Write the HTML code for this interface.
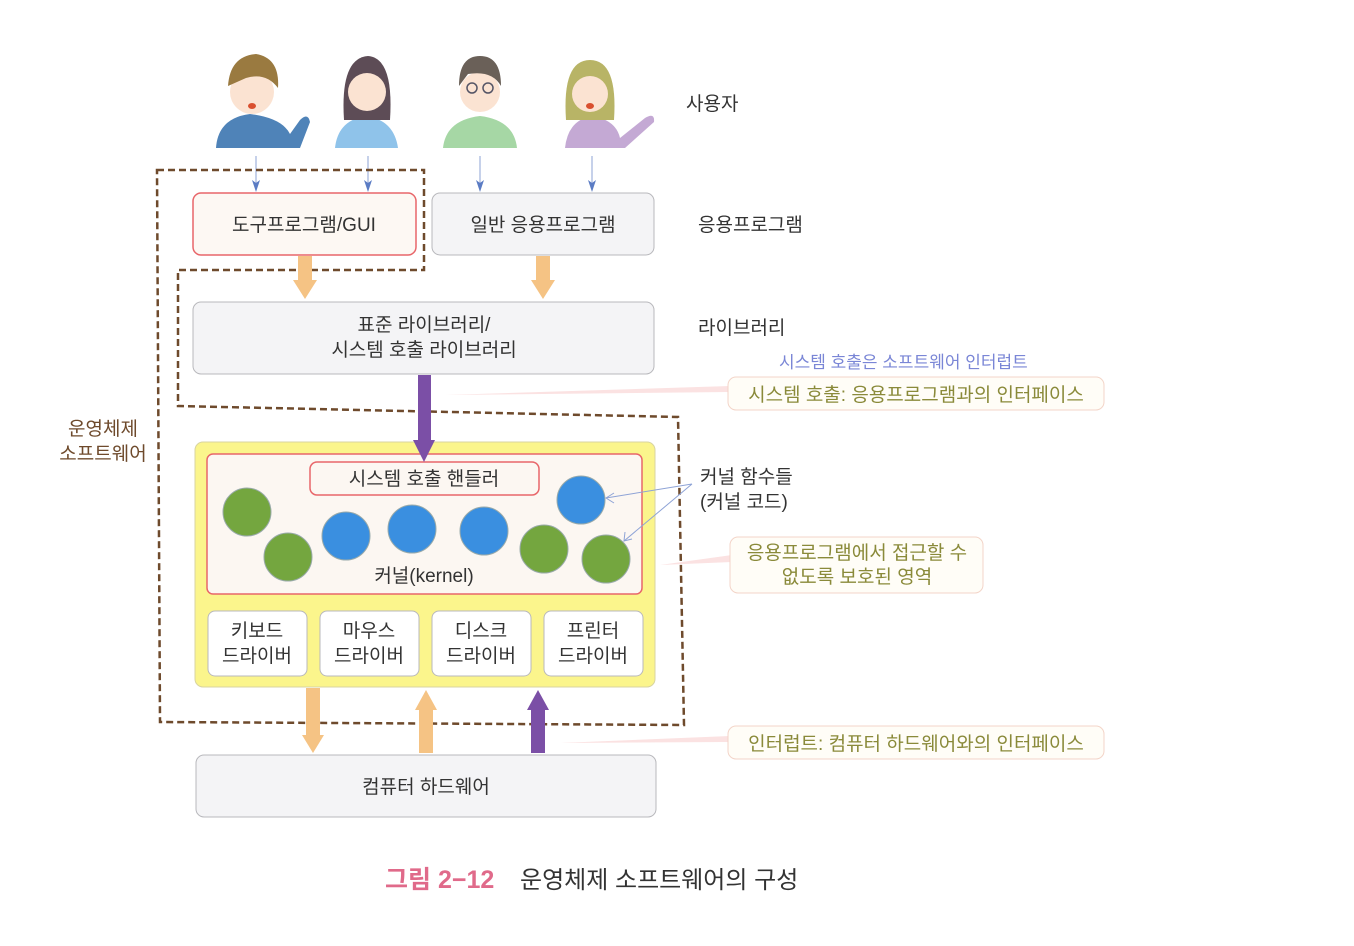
<!DOCTYPE html>
<html><head><meta charset="utf-8"><style>
html,body{margin:0;padding:0;background:#fff;}
svg{display:block;}
text{font-family:"Liberation Sans","Noto Sans CJK KR",sans-serif;}
</style></head><body>
<svg width="1354" height="946" viewBox="0 0 1354 946" xmlns="http://www.w3.org/2000/svg">

<!-- people -->
<g>
 <path d="M216,148 Q218,118 250,114 Q282,118 290,134 L300,120 Q308,112 310,122 L300,148 Z" fill="#4f83b8"/>
 <circle cx="252" cy="92" r="22" fill="#fbe3d2"/>
 <path d="M228,86 Q230,56 256,54 Q280,58 278,88 Q266,72 246,78 Z" fill="#9a7a40"/>
 <ellipse cx="252" cy="106" rx="4" ry="3" fill="#d9502f"/>
 <path d="M335,148 Q338,120 366,116 Q394,120 398,148 Z" fill="#8fc3ea"/>
 <path d="M344,120 Q340,58 368,56 Q394,58 390,120 Z" fill="#5d4c56"/>
 <circle cx="367" cy="92" r="19" fill="#fbe3d2"/>
 <path d="M443,148 Q446,120 480,116 Q514,120 517,148 Z" fill="#a6d7a5"/>
 <circle cx="480" cy="92" r="20" fill="#fbe3d2"/>
 <path d="M459,86 Q459,56 480,56 Q501,56 501,86 Q492,70 468,74 Z" fill="#6a6058"/>
 <circle cx="472" cy="88" r="5" fill="none" stroke="#556" stroke-width="1.5"/>
 <circle cx="488" cy="88" r="5" fill="none" stroke="#556" stroke-width="1.5"/>
 <path d="M565,148 Q568,120 592,116 Q616,120 620,138 L645,118 Q655,112 654,122 L625,148 Z" fill="#c4a9d4"/>
 <path d="M566,120 Q562,60 590,60 Q618,60 614,120 Z" fill="#b8b466"/>
 <circle cx="590" cy="94" r="18" fill="#fbe3d2"/>
 <ellipse cx="590" cy="106" rx="4" ry="3" fill="#d9502f"/>
</g>
<text x="686" y="110" font-size="19" fill="#333">사용자</text>

<!-- thin blue arrows -->
<g stroke="#8ea3d6" stroke-width="1">
<line x1="256" y1="156" x2="256" y2="188"/>
<line x1="368" y1="156" x2="368" y2="188"/>
<line x1="480" y1="156" x2="480" y2="188"/>
<line x1="592" y1="156" x2="592" y2="188"/>
</g>
<g fill="#5b7cc4">
<path d="M252,180 L256,192 L260,180 L256,183 Z"/>
<path d="M364,180 L368,192 L372,180 L368,183 Z"/>
<path d="M476,180 L480,192 L484,180 L480,183 Z"/>
<path d="M588,180 L592,192 L596,180 L592,183 Z"/>
</g>

<!-- dashed OS boundary -->
<path d="M157,170 L424,170 L424,270 L178,270 L178,406 L678,417 L684,725 L160,722 Z" fill="none" stroke="#6e4a2c" stroke-width="2.5" stroke-dasharray="7,4"/>

<!-- app boxes -->
<rect x="193" y="193" width="223" height="62" rx="8" fill="#fdf8f3" stroke="#e8666a" stroke-width="1.5"/>
<text x="304" y="231" font-size="19" fill="#333" text-anchor="middle">도구프로그램/GUI</text>
<rect x="432" y="193" width="222" height="62" rx="8" fill="#f4f4f6" stroke="#b8b8bc" stroke-width="1"/>
<text x="543" y="231" font-size="19" fill="#333" text-anchor="middle">일반 응용프로그램</text>
<text x="698" y="231" font-size="19" fill="#333">응용프로그램</text>

<!-- orange arrows -->
<g fill="#f5c384">
<path d="M298,256 L312,256 L312,280 L317,280 L305,299 L293,280 L298,280 Z"/>
<path d="M536,256 L550,256 L550,280 L555,280 L543,299 L531,280 L536,280 Z"/>
</g>

<!-- library -->
<rect x="193" y="302" width="461" height="72" rx="8" fill="#f4f4f6" stroke="#b8b8bc" stroke-width="1"/>
<text x="424" y="331" font-size="19" fill="#333" text-anchor="middle">표준 라이브러리/</text>
<text x="424" y="356" font-size="19" fill="#333" text-anchor="middle">시스템 호출 라이브러리</text>
<text x="698" y="334" font-size="19" fill="#333">라이브러리</text>

<!-- callouts -->
<text x="779" y="368" font-size="17" fill="#7a86d6">시스템 호출은 소프트웨어 인터럽트</text>
<path d="M445,395 L730,386 L730,392 Z" fill="#fbe2e2"/>
<rect x="728" y="377" width="376" height="33" rx="8" fill="#fffdf7" stroke="#f3d4c8" stroke-width="1"/>
<text x="916" y="401" font-size="19" fill="#8a8a3a" text-anchor="middle">시스템 호출: 응용프로그램과의 인터페이스</text>

<!-- yellow OS kernel area -->
<rect x="195" y="442" width="460" height="245" rx="8" fill="#fbf58c" stroke="#d8d4a0" stroke-width="1"/>
<rect x="207" y="454" width="435" height="140" rx="6" fill="#fcf7f2" stroke="#e8666a" stroke-width="1.5"/>
<rect x="310" y="462" width="229" height="33" rx="7" fill="#fcf7f2" stroke="#e8666a" stroke-width="1.5"/>
<text x="424" y="485" font-size="19" fill="#333" text-anchor="middle">시스템 호출 핸들러</text>
<!-- purple arrow down -->
<path d="M418,375 L431,375 L431,440 L435,440 L424,462 L413,440 L418,440 Z" fill="#7b4fa6"/>

<g stroke="#9aa" stroke-width="1">
<circle cx="247" cy="512" r="24" fill="#74a63f"/>
<circle cx="288" cy="557" r="24" fill="#74a63f"/>
<circle cx="346" cy="536" r="24" fill="#3a8fe0"/>
<circle cx="412" cy="529" r="24" fill="#3a8fe0"/>
<circle cx="484" cy="531" r="24" fill="#3a8fe0"/>
<circle cx="544" cy="549" r="24" fill="#74a63f"/>
<circle cx="581" cy="500" r="24" fill="#3a8fe0"/>
<circle cx="606" cy="559" r="24" fill="#74a63f"/>
</g>
<text x="424" y="582" font-size="19" fill="#333" text-anchor="middle">커널(kernel)</text>

<!-- kernel functions pointers -->
<g stroke="#8ea3d6" stroke-width="1" fill="none">
<path d="M692,484 L606,498 M692,484 L624,541"/>
<path d="M614,493 L606,498 L614,503 M625,532 L624,541 L632,539"/>
</g>
<text x="700" y="483" font-size="19" fill="#333">커널 함수들</text>
<text x="700" y="508" font-size="19" fill="#333">(커널 코드)</text>

<path d="M660,565 L732,555 L732,562 Z" fill="#fbe2e2"/>
<rect x="730" y="537" width="253" height="56" rx="8" fill="#fffdf7" stroke="#f3d4c8" stroke-width="1"/>
<text x="857" y="559" font-size="19" fill="#8a8a3a" text-anchor="middle">응용프로그램에서 접근할 수</text>
<text x="857" y="583" font-size="19" fill="#8a8a3a" text-anchor="middle">없도록 보호된 영역</text>

<!-- drivers -->
<g fill="#fff" stroke="#b8b8bc" stroke-width="1">
<rect x="208" y="611" width="99" height="65" rx="7"/>
<rect x="320" y="611" width="99" height="65" rx="7"/>
<rect x="432" y="611" width="99" height="65" rx="7"/>
<rect x="544" y="611" width="99" height="65" rx="7"/>
</g>
<g font-size="19" fill="#333" text-anchor="middle">
<text x="257" y="637">키보드</text><text x="257" y="662">드라이버</text>
<text x="369" y="637">마우스</text><text x="369" y="662">드라이버</text>
<text x="481" y="637">디스크</text><text x="481" y="662">드라이버</text>
<text x="593" y="637">프린터</text><text x="593" y="662">드라이버</text>
</g>

<!-- bottom arrows -->
<g fill="#f5c384">
<path d="M306,688 L320,688 L320,735 L324,735 L313,753 L302,735 L306,735 Z"/>
<path d="M419,753 L433,753 L433,710 L437,710 L426,690 L415,710 L419,710 Z"/>
</g>
<path d="M531,753 L545,753 L545,710 L549,710 L538,690 L527,710 L531,710 Z" fill="#7b4fa6"/>

<path d="M560,743 L730,736 L730,742 Z" fill="#fbe2e2"/>
<rect x="728" y="726" width="376" height="33" rx="8" fill="#fffdf7" stroke="#f3d4c8" stroke-width="1"/>
<text x="916" y="750" font-size="19" fill="#8a8a3a" text-anchor="middle">인터럽트: 컴퓨터 하드웨어와의 인터페이스</text>

<!-- hardware -->
<rect x="196" y="755" width="460" height="62" rx="8" fill="#f4f4f6" stroke="#b8b8bc" stroke-width="1"/>
<text x="426" y="793" font-size="19" fill="#333" text-anchor="middle">컴퓨터 하드웨어</text>

<!-- OS label -->
<text x="103" y="435" font-size="19" fill="#6e4a2c" text-anchor="middle">운영체제</text>
<text x="103" y="460" font-size="19" fill="#6e4a2c" text-anchor="middle">소프트웨어</text>

<!-- caption -->
<text x="385" y="888" font-size="25" font-weight="bold" fill="#e06a8a">그림 2−12</text>
<text x="520" y="888" font-size="24" fill="#333">운영체제 소프트웨어의 구성</text>
</svg>
</body></html>
